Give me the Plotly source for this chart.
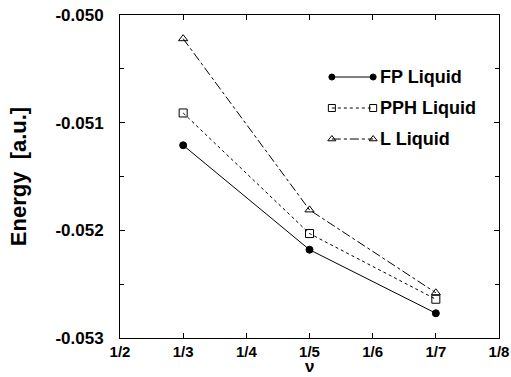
import plotly.graph_objects as go

# ---- data ----
tick_labels = ["1/2", "1/3", "1/4", "1/5", "1/6", "1/7", "1/8"]
tick_denoms = [2, 3, 4, 5, 6, 7, 8]
y_tick_vals = [-0.053, -0.052, -0.051, -0.050]
y_tick_labels = ["-0.053", "-0.052", "-0.051", "-0.050"]
nu_labels = ["1/3", "1/5", "1/7"]
nu_denoms = [3, 5, 7]
fp_liquid = [-0.05121, -0.05218, -0.05277]
pph_liquid = [-0.05091, -0.05203, -0.05264]
l_liquid = [-0.05022, -0.05181, -0.05258]
series_names = ["FP Liquid", "PPH Liquid", "L Liquid"]

FONT = "Liberation Sans, Arial, sans-serif"

styles = [
    dict(dash="solid", symbol="circle", size=7),
    dict(dash="dot", symbol="square-open", size=8),
    dict(dash="dashdot", symbol="triangle-up-open", size=8),
]

fig = go.Figure()
for name, vals, st in zip(series_names, [fp_liquid, pph_liquid, l_liquid], styles):
    fig.add_trace(go.Scatter(
        x=nu_denoms, y=vals, name=name, mode="lines+markers",
        text=nu_labels,
        line=dict(color="black", width=1, dash=st["dash"]),
        marker=dict(symbol=st["symbol"], size=st["size"], color="black",
                    line=dict(color="black", width=1)),
        showlegend=False,
    ))

# custom legend (markers at both ends of the sample line)
leg_y = [0.808, 0.712, 0.616]
for name, st, yy in zip(series_names, styles, leg_y):
    fig.add_trace(go.Scatter(
        x=[0.559, 0.668], y=[yy, yy], mode="lines+markers",
        xaxis="x2", yaxis="y2", showlegend=False, hoverinfo="skip",
        line=dict(color="black", width=1, dash=st["dash"]),
        marker=dict(symbol=st["symbol"], size=st["size"] - 1, color="black",
                    line=dict(color="black", width=1)),
    ))
    fig.add_annotation(
        x=0.680, y=yy, xref="x2", yref="y2", text="<b>%s</b>" % name,
        showarrow=False, xanchor="left", yanchor="middle",
        font=dict(family=FONT, size=18, color="black"),
    )

# x-axis title (nu) placed just below the tick labels
fig.add_annotation(
    x=0.5, y=-0.1207, xref="paper", yref="paper", text="<b>ν</b>",
    showarrow=False, xanchor="center", yanchor="bottom", borderpad=0,
    font=dict(family=FONT, size=17, color="black"),
)

fig.update_layout(
    width=511, height=377,
    margin=dict(l=120, r=12, t=15, b=39),
    paper_bgcolor="white", plot_bgcolor="white",
    font=dict(family=FONT, color="black"),
    xaxis=dict(
        range=[2, 8], tickvals=tick_denoms,
        ticktext=["<b>%s</b>" % t for t in tick_labels],
        automargin=False,
        ticks="inside", ticklen=5, tickwidth=1, tickcolor="black",
        showline=True, linecolor="black", linewidth=1, mirror="allticks",
        showgrid=False, zeroline=False,
        tickfont=dict(family=FONT, size=15, color="black"),
    ),
    yaxis=dict(
        range=[-0.053, -0.050], tickvals=y_tick_vals,
        ticktext=["<b>%s</b>" % t for t in y_tick_labels],
        automargin=False,
        ticks="inside", ticklen=5, tickwidth=1, tickcolor="black",
        minor=dict(dtick=0.0005, tick0=-0.053, ticks="inside", ticklen=4, tickcolor="black", showgrid=False),
        showline=True, linecolor="black", linewidth=1, mirror="allticks",
        showgrid=False, zeroline=False,
        ticklabelstandoff=12,
        tickfont=dict(family=FONT, size=17, color="black"),
        title=dict(text="<b>Energy  [a.u.]</b>", font=dict(family=FONT, size=22, color="black"), standoff=22),
    ),
    xaxis2=dict(range=[0, 1], overlaying="x", visible=False, domain=[0, 1]),
    yaxis2=dict(range=[0, 1], overlaying="y", visible=False, domain=[0, 1]),
)

fig.write_html("out.html")
